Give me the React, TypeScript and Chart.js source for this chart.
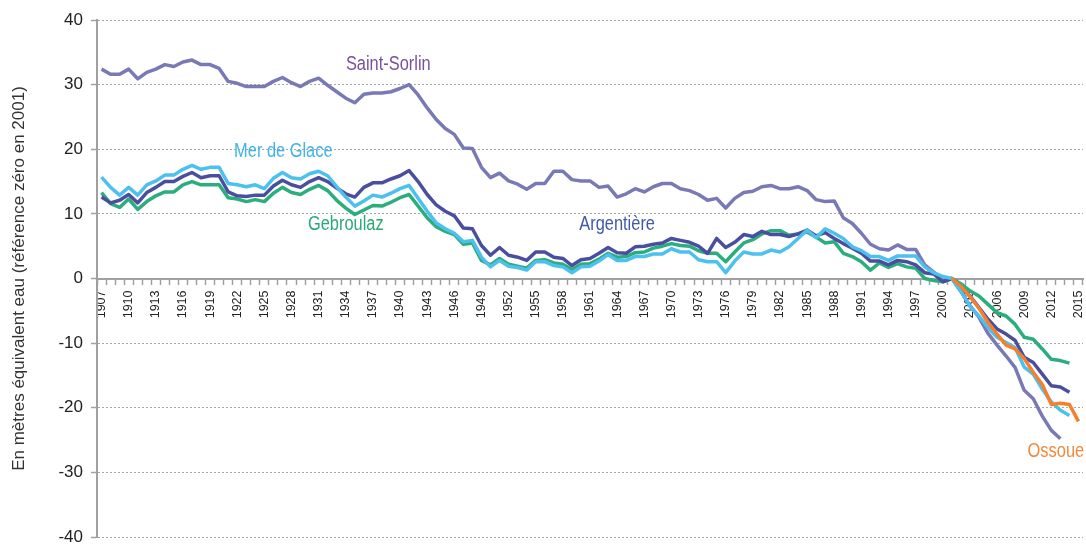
import React, { useEffect, useRef } from 'react';
import { Chart, registerables } from 'chart.js';

Chart.register(...registerables);

const FIRST_YEAR = 1907;
const LAST_YEAR = 2015;
const YEARS: string[] = [];
for (let y = FIRST_YEAR; y <= LAST_YEAR; y++) YEARS.push(String(y));

const Y_TICKS = [-40, -30, -20, -10, 0, 10, 20, 30, 40];

// 1907 .. 2015
const SAINT_SORLIN = [
  32.4, 31.6, 31.6, 32.4, 30.9, 31.9, 32.4, 33.1, 32.8, 33.5,
  33.8, 33.1, 33.1, 32.5, 30.5, 30.2, 29.7, 29.7, 29.7, 30.5,
  31.1, 30.3, 29.7, 30.5, 31.0, 29.9, 28.9, 27.9, 27.2, 28.5,
  28.7, 28.7, 28.9, 29.4, 30.0, 28.4, 26.4, 24.6, 23.2, 22.3,
  20.2, 20.1, 17.2, 15.6, 16.3, 15.1, 14.6, 13.8, 14.7, 14.7,
  16.6, 16.6, 15.3, 15.1, 15.1, 14.1, 14.3, 12.6, 13.1, 13.9,
  13.4, 14.2, 14.7, 14.7, 13.9, 13.6, 13.0, 12.1, 12.4, 10.9,
  12.4, 13.3, 13.5, 14.2, 14.4, 13.9, 13.9, 14.2, 13.6, 12.2,
  11.9, 12.0, 9.4, 8.5, 7.0, 5.3, 4.6, 4.4, 5.2, 4.5,
  4.5, 2.1, 1.0, -0.4, 0, -2.0, -4.2, -6.0, -8.5, -10.3,
  -12.0, -13.8, -17.3, -18.6, -21.3, -23.5, -24.8, null, null,
];

const MER_DE_GLACE = [
  15.7, 14.1, 12.9, 14.1, 12.9, 14.5, 15.1, 16.0, 16.0, 16.9,
  17.5, 16.9, 17.2, 17.2, 14.7, 14.5, 14.2, 14.5, 13.9, 15.5,
  16.4, 15.6, 15.4, 16.2, 16.6, 15.9, 14.2, 12.6, 11.2, 12.0,
  12.9, 12.6, 13.2, 13.9, 14.4, 12.4, 10.4, 8.6, 7.7, 7.0,
  5.7, 5.9, 3.3, 1.8, 2.8, 1.9, 1.7, 1.3, 2.6, 2.6,
  2.0, 1.8, 0.9, 1.8, 1.9, 2.7, 3.7, 2.8, 2.8, 3.4,
  3.4, 3.8, 3.8, 4.6, 4.1, 4.1, 2.9, 2.6, 2.6, 0.9,
  2.7, 4.1, 3.8, 3.8, 4.4, 4.1, 4.9, 6.2, 7.5, 6.3,
  7.7, 7.0, 6.2, 4.9, 4.3, 3.4, 3.4, 2.8, 3.5, 3.5,
  3.5, 1.8, 0.9, 0.3, 0, -2.0, -4.3, -5.8, -7.6, -9.1,
  -9.9, -10.7, -13.7, -14.8, -17.1, -19.1, -20.4, -21.2, null,
];

const ARGENTIERE = [
  12.6, 11.7, 12.1, 13.0, 11.7, 13.3, 14.1, 15.0, 15.0, 15.8,
  16.4, 15.6, 15.9, 15.9, 13.4, 12.8, 12.7, 12.9, 12.9, 14.3,
  15.2, 14.5, 14.1, 15.0, 15.6, 15.0, 14.0, 13.1, 12.6, 14.1,
  14.8, 14.8, 15.4, 15.9, 16.7, 15.0, 13.0, 11.4, 10.4, 9.7,
  7.8, 7.7, 5.1, 3.6, 4.8, 3.6, 3.3, 2.8, 4.1, 4.1,
  3.3, 3.1, 2.0, 2.9, 3.1, 3.9, 4.8, 4.0, 3.9, 4.9,
  5.0, 5.3, 5.5, 6.2, 5.9, 5.6, 5.0, 3.9, 6.2, 4.8,
  5.6, 6.8, 6.5, 7.3, 6.8, 6.8, 6.5, 6.9, 7.5, 6.6,
  7.1, 6.2, 5.4, 4.7, 3.9, 2.7, 2.7, 2.1, 2.8, 2.6,
  2.1, 0.9, 0.7, -0.5, 0, -1.4, -2.7, -4.5, -6.3, -7.8,
  -8.6, -9.6, -12.2, -13.0, -14.8, -16.6, -16.8, -17.6, null,
];

const GEBROULAZ = [
  13.3, 11.6, 11.0, 12.3, 10.7, 11.9, 12.8, 13.4, 13.4, 14.5,
  15.0, 14.5, 14.5, 14.5, 12.5, 12.3, 11.9, 12.2, 11.9, 13.2,
  14.1, 13.3, 13.0, 13.8, 14.4, 13.6, 12.1, 10.9, 9.9, 10.6,
  11.3, 11.2, 11.8, 12.5, 13.0, 11.2, 9.4, 8.0, 7.3, 6.8,
  5.3, 5.5, 2.8, 2.1, 3.1, 2.2, 1.9, 1.6, 2.8, 2.9,
  2.4, 2.2, 1.4, 2.2, 2.3, 3.0, 3.9, 3.3, 3.4, 4.0,
  4.1, 4.7, 5.0, 5.4, 5.1, 5.0, 4.3, 3.9, 3.9, 2.6,
  4.1, 5.5, 6.0, 6.9, 7.4, 7.4, 6.7, 6.9, 7.2, 6.4,
  5.5, 5.7, 3.9, 3.4, 2.6, 1.3, 2.4, 1.7, 2.3, 1.8,
  1.6, 0, -0.3, -0.5, 0, -0.8, -1.9, -2.7, -4.0, -5.3,
  -5.8, -7.1, -9.1, -9.4, -10.9, -12.5, -12.7, -13.1, null,
];

// 2001 .. 2015
const OSSOUE_START = 2001;
const OSSOUE_VALUES = [
  0, -1.2, -2.8, -4.6, -6.8, -8.6, -10.3, -10.9, -12.4, -14.5,
  -16.4, -19.5, -19.3, -19.5, -22.1,
];
const OSSOUE = [
  ...new Array(OSSOUE_START - FIRST_YEAR).fill(null),
  ...OSSOUE_VALUES,
];

const Y_TITLE = 'En mètres équivalent eau (référence zéro en 2001)';

const SANS = "'Liberation Sans', Arial, sans-serif";

const SERIES = [
  { name: 'Saint-Sorlin', data: SAINT_SORLIN, line: '#7979b5', text: '#7a4fa2', order: 4, at: [31.7, 33.1] },
  { name: 'Gebroulaz', data: GEBROULAZ, line: '#2bad7d', text: '#2aa978', order: 3, at: [27.0, 8.3] },
  { name: 'Argentière', data: ARGENTIERE, line: '#4a4e9f', text: '#3f5aa8', order: 2, at: [57.0, 8.3] },
  { name: 'Mer de Glace', data: MER_DE_GLACE, line: '#4cc0ee', text: '#40b4e6', order: 1, at: [20.1, 19.6] },
  { name: 'Ossoue', data: OSSOUE, line: '#f4802f', text: '#f28a3c', order: 0, at: [105.5, -26.7] },
];

export default function App() {
  const ref = useRef<HTMLCanvasElement>(null);

  useEffect(() => {
    if (!ref.current) return;

    const labelPlugin = {
      id: 'seriesLabels',
      afterDatasetsDraw(chart: any) {
        const { ctx, scales } = chart;
        SERIES.forEach((s) => {
          ctx.save();
          ctx.font = `20px ${SANS}`;
          ctx.textAlign = 'center';
          ctx.textBaseline = 'middle';
          ctx.fillStyle = s.text;
          ctx.translate(scales.x.getPixelForValue(s.at[0]), scales.y.getPixelForValue(s.at[1]));
          ctx.scale(0.82, 1);
          ctx.fillText(s.name, 0, 0);
          ctx.restore();
        });
      },
    };

    const chart = new Chart(ref.current, {
      type: 'line',
      data: {
        labels: YEARS,
        datasets: SERIES.map((s) => ({
          label: s.name,
          data: s.data,
          borderColor: s.line,
          backgroundColor: s.line,
          order: s.order,
          borderWidth: 3.5,
          pointRadius: 0,
          pointHoverRadius: 0,
          tension: 0,
          spanGaps: false,
          borderJoinStyle: 'round',
          borderCapStyle: 'butt',
          fill: false,
        })),
      },
      options: {
        responsive: false,
        animation: false,
        devicePixelRatio: 1,
        layout: { padding: { left: 0, top: 20, right: 3, bottom: 7 } },
        plugins: {
          legend: { display: false },
          tooltip: { enabled: false },
        },
        scales: {
          x: {
            type: 'category',
            position: { y: 0 },
            offset: true,
            grid: {
              display: true,
              drawOnChartArea: false,
              drawTicks: true,
              tickLength: 5,
              tickColor: '#a0a0a0',
              tickWidth: 1.5,
              offset: true,
            },
            border: { display: true, color: '#a0a0a0', width: 2 },
            ticks: {
              autoSkip: false,
              minRotation: 90,
              maxRotation: 90,
              padding: 7,
              color: '#222',
              font: { family: SANS, size: 12.5 },
              callback: (_v: any, i: number) => ((i % 3 === 0) ? YEARS[i] : ''),
            },
            afterFit: (s: any) => {
              s.paddingLeft = 0;
              s.paddingRight = 0;
            },
          },
          y: {
            position: 'left',
            min: -40,
            max: 40,
            afterBuildTicks: (s: any) => {
              s.ticks = Y_TICKS.map((v) => ({ value: v }));
            },
            ticks: {
              color: '#222',
              font: { family: SANS, size: 17 },
              padding: 8,
            },
            grid: {
              color: (c: any) => (c.tick && c.tick.value === 0 ? 'rgba(0,0,0,0)' : '#a6a6a6'),
              lineWidth: 1,
              drawTicks: true,
              tickLength: 6,
              tickColor: '#a0a0a0',
              tickWidth: 1.5,
            },
            border: { display: true, color: '#a0a0a0', width: 2, dash: [2, 2] },
            title: {
              display: true,
              text: Y_TITLE,
              color: '#333',
              font: { family: SANS, size: 17 },
              padding: { top: 9, bottom: 0 },
            },
            afterFit: (s: any) => {
              s.width = 97;
              s.paddingTop = 0;
              s.paddingBottom = 0;
            },
          },
        },
      },
      plugins: [labelPlugin],
    } as any);

    return () => chart.destroy();
  }, []);

  return (
    <div style={{ position: 'absolute', left: 0, top: 0, width: 1086, height: 544, background: '#fff' }}>
      <canvas ref={ref} width={1086} height={544} style={{ display: 'block' }} />
    </div>
  );
}
